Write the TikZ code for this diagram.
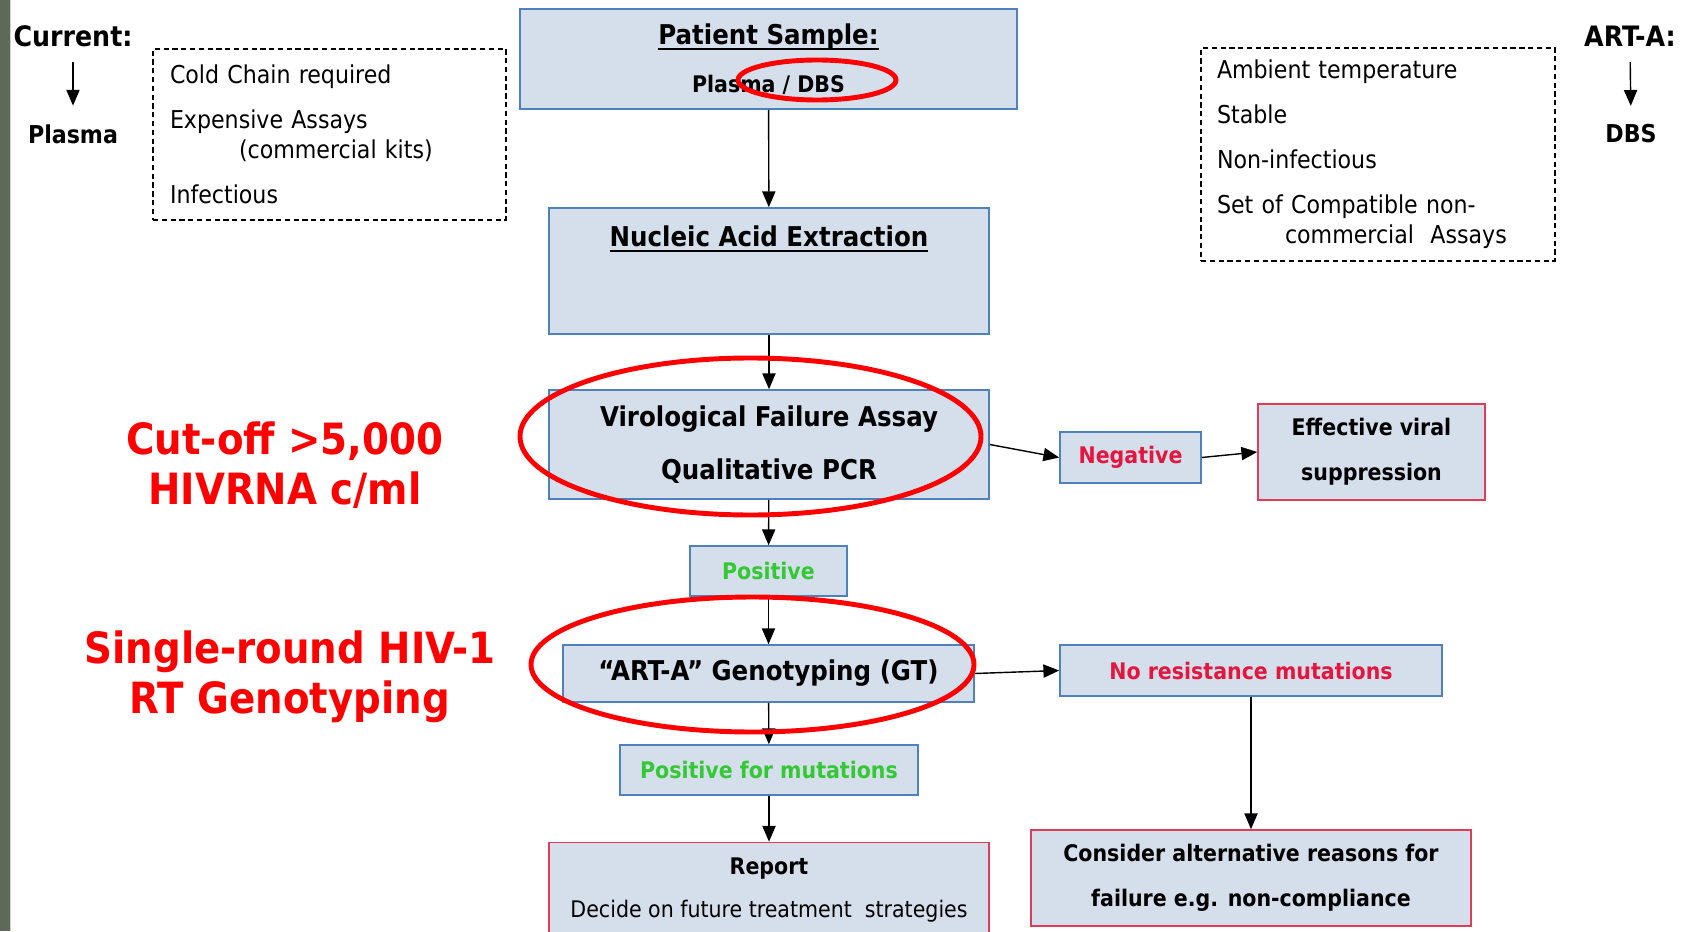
\documentclass[tikz,border=0pt]{standalone}
\usepackage{fontspec}
\setmainfont{DejaVu Sans Condensed}
\usepackage{tikz}
\usetikzlibrary{arrows.meta, shapes, positioning}

\definecolor{boxfill}{RGB}{213,223,236}
\definecolor{boxblue}{RGB}{79,129,189}
\definecolor{boxred}{RGB}{222,60,88}
\definecolor{negred}{RGB}{228,22,62}
\definecolor{posgreen}{RGB}{52,200,52}
\definecolor{ringred}{RGB}{255,0,0}
\definecolor{stripgray}{RGB}{96,104,88}

\newcommand{\titleline}[1]{{\setbox0\hbox{#1}\rlap{\raisebox{-3.4pt}{\rule{\wd0}{1.1pt}}}\box0}}

\tikzset{
    bluebox/.style={draw=boxblue, fill=boxfill, line width=0.9pt, inner sep=0pt, align=center},
    redbox/.style={bluebox, draw=boxred},
    notebox/.style={draw, dash pattern=on 3pt off 2pt, line width=0.7pt, align=left, inner ysep=0pt, font=\fontsize{14}{17}\selectfont},
    ring/.style={draw=ringred, line width=2.8pt},
    flow/.style={-{Triangle[length=9pt, width=7.5pt]}, line width=0.8pt},
    side/.style={inner sep=0pt, font=\fontsize{16}{19}\selectfont\bfseries},
    callout/.style={inner sep=0pt, text=ringred, align=center, font=\fontsize{24.5}{28.5}\selectfont\bfseries}
}

\begin{document}
\begin{tikzpicture}
                    \useasboundingbox (0, 0) rectangle (33.72, -18.62);
                    \fill[stripgray] (0, 0) rectangle (0.2, -18.62);
                    \fill[gray!35] (0.2, 0) rectangle (0.23, -18.62);

                    \node[side] (current) at (1.46, -0.72) {Current:};
                    \node[side, font=\fontsize{14}{17}\selectfont\bfseries] (plasma) at (1.46, -2.68) {Plasma};
                    \node[side] (arta) at (32.6, -0.72) {ART-A:};
                    \node[side, font=\fontsize{14}{17}\selectfont\bfseries] (dbs) at (32.62, -2.68) {DBS};

                    \node[notebox, minimum width=7.06cm, minimum height=3.42cm, text width=6.38cm, inner xsep=0.34cm] (cold) at (6.59, -2.69) {Cold Chain required\\[8.6pt] Expensive Assays\\ \hspace*{1.38cm}(commercial kits)\\[8.6pt] Infectious};
                    \node[notebox, minimum width=7.08cm, minimum height=4.26cm, text width=6.44cm, inner xsep=0.32cm] (ambient) at (27.56, -3.09) {Ambient temperature\\[8.6pt] Stable\\[8.6pt] Non-infectious\\[8.6pt] Set of Compatible non-\\ \hspace*{1.36cm}commercial\ \ Assays};

                    \node[bluebox, minimum width=9.94cm, minimum height=2cm, font=\fontsize{13}{27.3}\selectfont\bfseries] (patient) at (15.37, -1.18) {{\fontsize{15.5}{27.3}\selectfont\titleline{Patient Sample:}}\\ Plasma / DBS};
                    \node[bluebox, minimum width=8.8cm, minimum height=2.52cm] (nucleic) at (15.38, -5.42) {};
                    \node[inner sep=0pt, font=\fontsize{15.5}{18}\selectfont\bfseries] (nucleic-title) at (15.38, -4.78) {\titleline{Nucleic Acid Extraction}};
                    \node[bluebox, minimum width=8.8cm, minimum height=2.18cm, font=\fontsize{15.5}{30}\selectfont\bfseries] (viro) at (15.38, -8.89) {Virological Failure Assay\\ Qualitative PCR};
                    \node[bluebox, minimum width=2.82cm, minimum height=1.02cm, text=negred, font=\fontsize{13}{15}\selectfont\bfseries] (negative) at (22.61, -9.15) {Negative};
                    \node[redbox, minimum width=4.54cm, minimum height=1.92cm, font=\fontsize{13}{25.6}\selectfont\bfseries] (effective) at (27.43, -9.04) {Effective viral\\ suppression};
                    \node[bluebox, minimum width=3.14cm, minimum height=1cm, text=posgreen, font=\fontsize{13}{15}\selectfont\bfseries] (positive) at (15.37, -11.42) {Positive};
                    \node[bluebox, minimum width=8.22cm, minimum height=1.14cm, font=\fontsize{15.5}{18}\selectfont\bfseries] (geno) at (15.37, -13.47) {“ART-A” Genotyping (GT)};
                    \node[bluebox, minimum width=7.64cm, minimum height=1.02cm, text=negred, font=\fontsize{13}{15}\selectfont\bfseries] (nores) at (25.02, -13.41) {No resistance mutations};
                    \node[bluebox, minimum width=5.96cm, minimum height=1cm, text=posgreen, font=\fontsize{13}{15}\selectfont\bfseries] (posmut) at (15.38, -15.4) {Positive for mutations};
                    \node[redbox, minimum width=8.8cm, minimum height=1.9cm, font=\fontsize{13}{24.5}\selectfont\bfseries] (report) at (15.38, -17.8) {Report\\ {\mdseries Decide on future treatment\ \ strategies}};
                    \node[redbox, minimum width=8.8cm, minimum height=1.92cm, font=\fontsize{13}{25.6}\selectfont\bfseries] (consider) at (25.02, -17.56) {Consider alternative reasons for\\ failure e.g. non-compliance};

                    \node[callout] (cutoff) at (5.7, -9.3) {Cut-off >5,000\\ HIVRNA c/ml};
                    \node[callout] (single) at (5.8, -13.53) {Single-round HIV-1\\ RT Genotyping};

                    \draw[flow, shorten <=0.31cm, shorten >=0.37cm] (current.south) -- (plasma.north);
                    \draw[flow, shorten <=0.31cm, shorten >=0.37cm] (arta.south) -- (dbs.north);
                    \draw[flow] (patient) -- (nucleic);
                    \draw[flow] (nucleic) -- (viro);
                    \draw[flow] (viro.east) -- (negative.west);
                    \draw[flow] (negative.east) -- (effective.west);
                    \draw[flow] (viro) -- (positive);
                    \draw[flow] (positive) -- (geno);
                    \draw[flow] (geno.east) -- (nores.west);
                    \draw[flow] (nores) -- (consider);
                    \draw[flow] (geno) -- (posmut);
                    \draw[flow] (posmut) -- (report);

                    \draw[ring] (16.34, -1.6) ellipse [x radius=1.58, y radius=0.4];
                    \draw[ring] (15.01, -8.73) ellipse [x radius=4.61, y radius=1.57];
                    \draw[ring] (15.05, -13.29) ellipse [x radius=4.43, y radius=1.35];
                \end{tikzpicture}
\end{document}
